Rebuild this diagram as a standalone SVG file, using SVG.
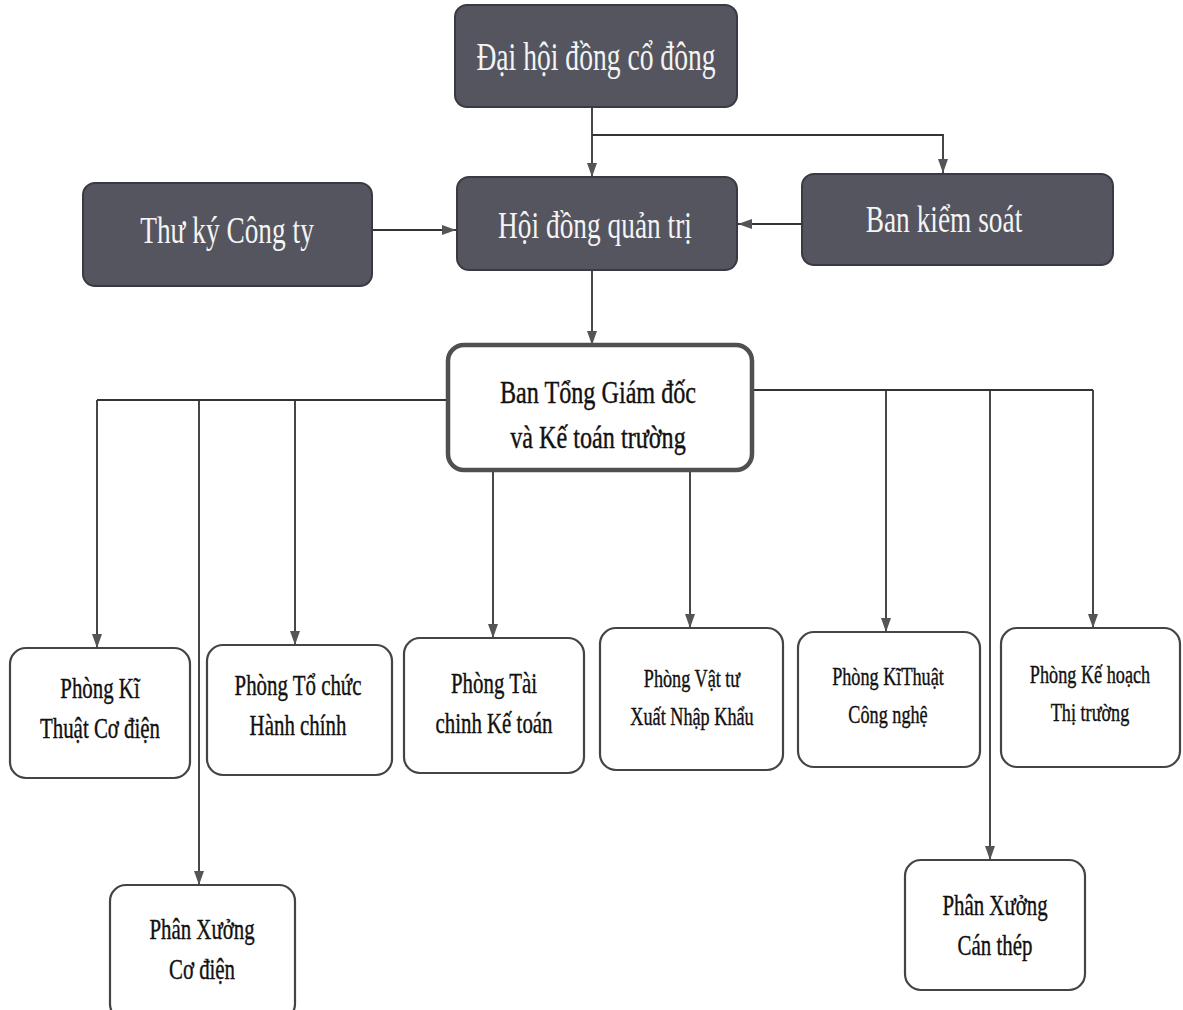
<svg xmlns="http://www.w3.org/2000/svg" width="1183" height="1010" viewBox="0 0 1183 1010">
<defs>
<style>
.dark{fill:#55555f;stroke:#3a3a44;stroke-width:2}
.light{fill:#ffffff;stroke:#444444;stroke-width:2.2}
.main{fill:#ffffff;stroke:#505050;stroke-width:4.5}
.dt{font-family:"Liberation Serif","DejaVu Serif",serif;fill:#f4f4f4;text-anchor:middle}
.lt{font-family:"Liberation Serif","DejaVu Serif",serif;fill:#111111;stroke:#111111;stroke-width:0.4;text-anchor:middle}
.conn line,.conn polyline{stroke:#333333;stroke-width:1.8;fill:none}
</style>
<marker id="ah" viewBox="0 0 14 10" refX="14" refY="5" markerWidth="14" markerHeight="10" markerUnits="userSpaceOnUse" orient="auto">
<path d="M0,0 L14,5 L0,10 Z" fill="#555555"/>
</marker>
</defs>
<rect width="1183" height="1010" fill="#ffffff"/>

<g class="conn">
<line x1="592" y1="107" x2="592" y2="177" marker-end="url(#ah)"/>
<polyline points="592,135 943,135 943,173" marker-end="url(#ah)"/>
<line x1="372" y1="230" x2="456" y2="230" marker-end="url(#ah)"/>
<line x1="802" y1="224" x2="738" y2="224" marker-end="url(#ah)"/>
<line x1="592" y1="270" x2="592" y2="345" marker-end="url(#ah)"/>
<line x1="97" y1="400" x2="448" y2="400"/>
<line x1="97" y1="400" x2="97" y2="648" marker-end="url(#ah)"/>
<line x1="199" y1="400" x2="199" y2="885" marker-end="url(#ah)"/>
<line x1="295" y1="400" x2="295" y2="645" marker-end="url(#ah)"/>
<line x1="752" y1="390" x2="1093" y2="390"/>
<line x1="886" y1="390" x2="886" y2="632" marker-end="url(#ah)"/>
<line x1="990" y1="390" x2="990" y2="860" marker-end="url(#ah)"/>
<line x1="1093" y1="390" x2="1093" y2="628" marker-end="url(#ah)"/>
<line x1="493" y1="470" x2="493" y2="638" marker-end="url(#ah)"/>
<line x1="690" y1="470" x2="690" y2="628" marker-end="url(#ah)"/>
</g>

<g id="dai-hoi-dong-co-dong">
<rect class="dark" x="455" y="5" width="282" height="102" rx="12"/>
<text class="dt" font-size="40" transform="translate(596,70) scale(0.69,1)">Đại hội đồng cổ đông</text>
</g>
<g id="thu-ky-cong-ty">
<rect class="dark" x="83" y="183" width="289" height="103" rx="12"/>
<text class="dt" font-size="38" transform="translate(227,243) scale(0.72,1)">Thư ký Công ty</text>
</g>
<g id="hoi-dong-quan-tri">
<rect class="dark" x="457" y="177" width="280" height="93" rx="12"/>
<text class="dt" font-size="38" transform="translate(595,238) scale(0.72,1)">Hội đồng quản trị</text>
</g>
<g id="ban-kiem-soat">
<rect class="dark" x="802" y="174" width="311" height="91" rx="12"/>
<text class="dt" font-size="38" transform="translate(944,232) scale(0.72,1)">Ban kiểm soát</text>
</g>
<g id="ban-tong-giam-doc">
<rect class="main" x="448" y="345" width="304" height="125" rx="16"/>
<text class="lt" font-size="31" transform="translate(598,403) scale(0.78,1)">Ban Tổng Giám đốc</text>
<text class="lt" font-size="31" transform="translate(598,448) scale(0.78,1)">và Kế toán trường</text>
</g>

<g id="phong-ki-thuat-co-dien">
<rect class="light" x="10" y="648" width="180" height="130" rx="16"/>
<text class="lt" font-size="29" transform="translate(100,698) scale(0.72,1)">Phòng Kĩ</text>
<text class="lt" font-size="29" transform="translate(100,738) scale(0.72,1)">Thuật Cơ điện</text>
</g>
<g id="phong-to-chuc-hanh-chinh">
<rect class="light" x="207" y="645" width="185" height="130" rx="16"/>
<text class="lt" font-size="29" transform="translate(298,695) scale(0.72,1)">Phòng Tổ chức</text>
<text class="lt" font-size="29" transform="translate(298,735) scale(0.72,1)">Hành chính</text>
</g>
<g id="phong-tai-chinh-ke-toan">
<rect class="light" x="404" y="638" width="180" height="135" rx="16"/>
<text class="lt" font-size="29" transform="translate(494,693) scale(0.72,1)">Phòng Tài</text>
<text class="lt" font-size="29" transform="translate(494,733) scale(0.72,1)">chinh Kế toán</text>
</g>
<g id="phong-vat-tu">
<rect class="light" x="600" y="628" width="183" height="142" rx="16"/>
<text class="lt" font-size="26" transform="translate(692,687) scale(0.7,1)">Phòng Vật tư</text>
<text class="lt" font-size="26" transform="translate(692,725) scale(0.7,1)">Xuất Nhập Khẩu</text>
</g>
<g id="phong-ki-thuat-cong-nghe">
<rect class="light" x="798" y="632" width="182" height="135" rx="16"/>
<text class="lt" font-size="26" transform="translate(888,685) scale(0.7,1)">Phòng KĩThuật</text>
<text class="lt" font-size="26" transform="translate(888,723) scale(0.7,1)">Công nghệ</text>
</g>
<g id="phong-ke-hoach-thi-truong">
<rect class="light" x="1001" y="628" width="179" height="139" rx="16"/>
<text class="lt" font-size="26" transform="translate(1090,683) scale(0.7,1)">Phòng Kế hoạch</text>
<text class="lt" font-size="26" transform="translate(1090,721) scale(0.7,1)">Thị trường</text>
</g>
<g id="phan-xuong-co-dien">
<rect class="light" x="110" y="885" width="185" height="135" rx="16"/>
<text class="lt" font-size="29" transform="translate(202,939) scale(0.72,1)">Phân Xưởng</text>
<text class="lt" font-size="29" transform="translate(202,979) scale(0.72,1)">Cơ điện</text>
</g>
<g id="phan-xuong-can-thep">
<rect class="light" x="905" y="860" width="180" height="130" rx="16"/>
<text class="lt" font-size="29" transform="translate(995,915) scale(0.72,1)">Phân Xưởng</text>
<text class="lt" font-size="29" transform="translate(995,955) scale(0.72,1)">Cán thép</text>
</g>
</svg>
